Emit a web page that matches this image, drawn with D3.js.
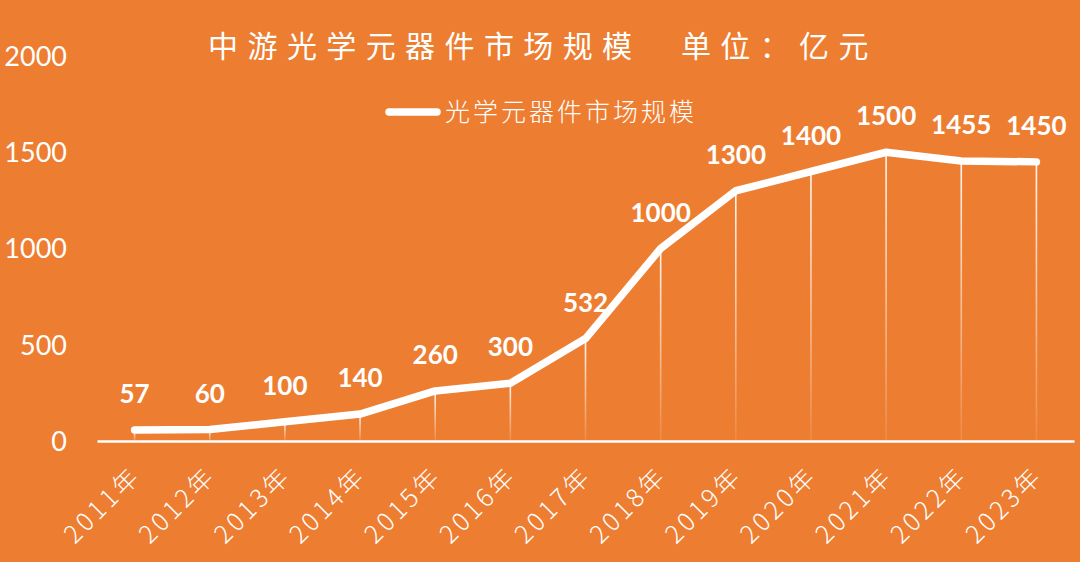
<!DOCTYPE html>
<html><head><meta charset="utf-8">
<script src="https://cdn.jsdelivr.net/npm/d3@7/dist/d3.min.js"></script>
<style>html,body{margin:0;padding:0;background:#ED7D31;}svg{display:block;}</style>
</head><body>
<svg id="c" width="1080" height="562"></svg>
<script>
const categories = ["2011年","2012年","2013年","2014年","2015年","2016年","2017年","2018年","2019年","2020年","2021年","2022年","2023年"];
const values = [57,60,100,140,260,300,532,1000,1300,1400,1500,1455,1450];
const yTicks = [0,500,1000,1500,2000];
const titleText = "中游光学元器件市场规模　单位：亿元";
const seriesName = "光学元器件市场规模";

const svg = d3.select("#c");
const W = 1080, H = 562;
svg.append("rect").attr("width",W).attr("height",H).attr("fill","#ED7D31");

const x = d3.scaleBand().domain(categories).range([97,1074]).padding(0);
const y = d3.scaleLinear().domain([0,2000]).range([441,56]);
const cx = d => x(d) + x.bandwidth()/2;

const defs = svg.append("defs");
const g = defs.append("linearGradient").attr("id","drop").attr("x1",0).attr("y1",0).attr("x2",0).attr("y2",1);
g.append("stop").attr("offset","0%").attr("stop-color","#fff").attr("stop-opacity",0.95);
g.append("stop").attr("offset","100%").attr("stop-color","#fff").attr("stop-opacity",0.1);

// y axis labels
const yAxis = d3.axisLeft(y).tickValues(yTicks).tickSize(0).tickPadding(0).tickFormat(d3.format("d"));
const ya = svg.append("g").attr("transform","translate(67,0)").call(yAxis);
ya.select(".domain").remove();
ya.selectAll("text").attr("fill","#fff").style("font-family","Lato, 'Open Sans', sans-serif").style("font-size","27px").attr("dy","0.35em");

// drop lines
svg.append("g").selectAll("rect").data(categories).join("rect")
  .attr("x",(d)=>cx(d)-0.8).attr("width",1.6)
  .attr("y",(d,i)=>y(values[i])).attr("height",(d,i)=>y(0)-y(values[i]))
  .attr("fill","url(#drop)");

// x axis
const xAxis = d3.axisBottom(x).tickSize(0).tickPadding(0);
const xa = svg.append("g").attr("transform",`translate(0,${y(0)})`).call(xAxis);
xa.select(".domain").attr("stroke","#fff").attr("stroke-width",2.5);
xa.selectAll(".tick text").attr("fill","#fff")
  .style("font-family","'Noto Sans CJK SC', sans-serif").style("font-size","25px").style("font-weight","300")
  .style("letter-spacing","3.5px")
  .attr("text-anchor","end").attr("dy",null).attr("y",null)
  .attr("transform","translate(8,36) rotate(-45)");

// line
const line = d3.line().x((d,i)=>cx(categories[i])).y(d=>y(d));
svg.append("path").datum(values).attr("d",line).attr("fill","none")
  .attr("stroke","#fff").attr("stroke-width",7.5).attr("stroke-linecap","round").attr("stroke-linejoin","round");

// data labels
svg.append("g").selectAll("text").data(values).join("text")
  .attr("x",(d,i)=>cx(categories[i])).attr("y",d=>y(d)-36)
  .attr("text-anchor","middle").attr("dy","0.35em")
  .attr("fill","#fff").style("font-family","Lato, sans-serif").style("font-weight","bold").style("font-size","26px")
  .text(d=>d);

// title
svg.append("text").attr("x",543).attr("y",46).attr("text-anchor","middle").attr("dy","0.35em")
  .attr("fill","#fff").style("font-family","'Noto Sans CJK SC', sans-serif").style("font-size","30px").style("font-weight","400")
  .style("letter-spacing","9.4px").text(titleText);

// legend
svg.append("line").attr("x1",389).attr("x2",437).attr("y1",112).attr("y2",112)
  .attr("stroke","#fff").attr("stroke-width",7.5).attr("stroke-linecap","round");
svg.append("text").attr("x",445).attr("y",112).attr("dy","0.35em")
  .attr("fill","#fff").style("font-family","'Noto Sans CJK SC', sans-serif").style("font-size","25px").style("font-weight","300")
  .style("letter-spacing","3px").text(seriesName);
</script>
</body></html>
